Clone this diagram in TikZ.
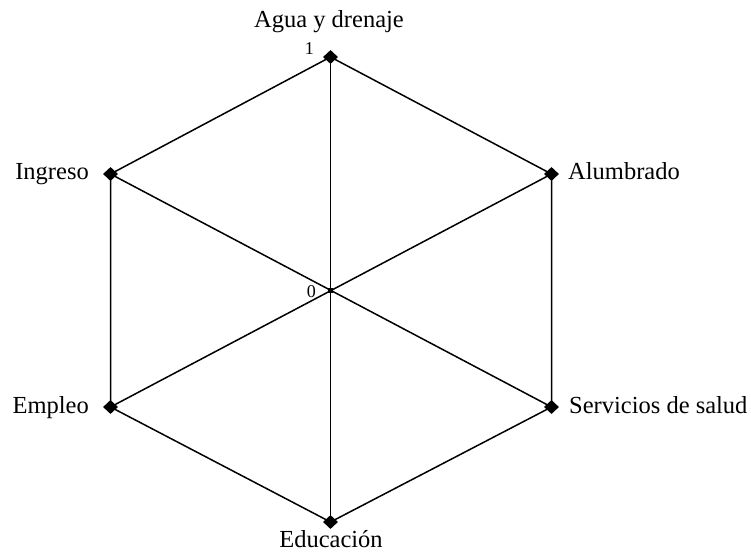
\documentclass[tikz,border=0pt]{standalone}
\usepackage{fontspec}
\setmainfont{Liberation Serif}
\usetikzlibrary{shapes.geometric}
\begin{document}
\begin{tikzpicture}[x=1pt,y=-1pt,
  edge/.style={line width=1.5pt,black},
  vtx/.style={diamond,fill=black,inner sep=0pt,minimum width=15pt,minimum height=14pt},
  ctr/.style={rectangle,fill=black,inner sep=0pt,minimum size=5pt},
  lab/.style={font=\fontsize{24.5}{28}\selectfont,inner sep=0pt},
  num/.style={font=\fontsize{18}{20}\selectfont,inner sep=0pt}]
\useasboundingbox (0,0) rectangle (751,551);
\coordinate (pT) at (330.5,57);
\coordinate (pUR) at (551.5,174);
\coordinate (pLR) at (551.5,407);
\coordinate (pB) at (330.5,522);
\coordinate (pLL) at (110.5,407);
\coordinate (pUL) at (110.5,174);
\coordinate (pC) at (330.5,290);
\draw[edge] (pT) -- (pUR) -- (pLR) -- (pB) -- (pLL) -- (pUL) -- cycle;
\draw[edge] (pT) -- (pB);
\draw[edge] (pUL) -- (pLR);
\draw[edge] (pLL) -- (pUR);
\node[vtx] (vT) at (pT) {};
\node[vtx] (vUR) at (pUR) {};
\node[vtx] (vLR) at (pLR) {};
\node[vtx] (vB) at (pB) {};
\node[vtx] (vLL) at (pLL) {};
\node[vtx] (vUL) at (pUL) {};
\node[ctr] (vC) at (pC) {};
\node[lab,anchor=base] (tT) at (329,28) {Agua y drenaje};
\node[lab,anchor=base west] (tUR) at (568,179) {Alumbrado};
\node[lab,anchor=base west] (tLR) at (569,413) {Servicios de salud};
\node[lab,anchor=base] (tB) at (331,547) {Educación};
\node[lab,anchor=base east] (tLL) at (89,413) {Empleo};
\node[lab,anchor=base east] (tUL) at (89,179) {Ingreso};
\node[num,anchor=base east] (n1) at (314,55) {1};
\node[num,anchor=base east] (n0) at (316,297) {0};
\end{tikzpicture}
\end{document}
